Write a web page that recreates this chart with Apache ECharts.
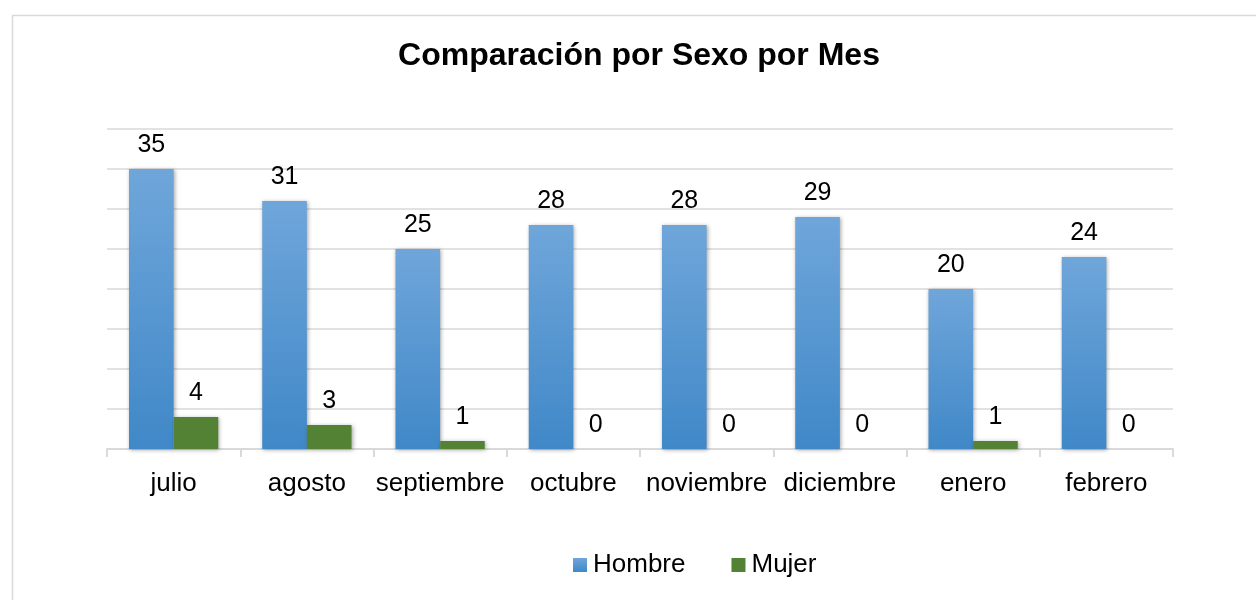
<!DOCTYPE html>
<html lang="es">
<head>
    <meta charset="UTF-8">
    <title>Comparación por Sexo por Mes</title>
    <style>
        html, body { margin: 0; padding: 0; background: #fff; }
        #main { width: 1256px; height: 600px; }
    </style>
</head>
<body>
<div id="main"></div>
<script src="https://cdn.jsdelivr.net/npm/echarts@6/dist/echarts.min.js"></script>
<script>
    const chart = echarts.init(document.getElementById('main'));

    // datos
    const meses = ['julio', 'agosto', 'septiembre', 'octubre', 'noviembre', 'diciembre', 'enero', 'febrero'];
    const hombre = [35, 31, 25, 28, 28, 29, 20, 24];
    const mujer = [4, 3, 1, 0, 0, 0, 1, 0];

    const font = 'Arial, "Liberation Sans", sans-serif';

    // etiqueta encima de cada barra
    const etiqueta = {
        show: true,
        position: 'top',
        distance: 11,
        color: '#000',
        fontSize: 25,
        fontFamily: font
    };

    const sombra = {
        shadowBlur: 4,
        shadowColor: 'rgba(0,0,0,0.35)',
        shadowOffsetX: 1,
        shadowOffsetY: 1
    };

    const option = {
        backgroundColor: '#fff',
        // marco del gráfico
        graphic: [{
            type: 'rect',
            left: 10, top: 13,
            shape: { width: 1260, height: 600 },
            style: { fill: 'none', stroke: '#d9d9d9', lineWidth: 1.5 },
            silent: true
        }],
        title: {
            text: 'Comparación por Sexo por Mes',
            left: 634,
            top: 35,
            textAlign: 'center',
            textStyle: { fontFamily: font, fontSize: 32, fontWeight: 'bold', color: '#000' }
        },
        legend: {
            top: 547,
            left: 568,
            itemWidth: 14,
            itemHeight: 14,
            itemGap: 46,
            icon: 'rect',
            textStyle: { fontFamily: font, fontSize: 26, color: '#000', padding: [0, 0, 0, 1] },
            data: ['Hombre', 'Mujer']
        },
        grid: { left: 107, right: 83, top: 129, bottom: 151, containLabel: false },
        xAxis: {
            type: 'category',
            data: meses,
            axisLine: { show: true, lineStyle: { color: '#d9d9d9', width: 2 } },
            axisTick: { show: true, length: 8, lineStyle: { color: '#d9d9d9', width: 2 } },
            axisLabel: { interval: 0, color: '#000', fontSize: 26, fontFamily: font, margin: 22 }
        },
        yAxis: {
            type: 'value',
            min: 0,
            max: 40,
            interval: 5,
            axisLabel: { show: false },
            axisLine: { show: false },
            axisTick: { show: false },
            splitLine: { lineStyle: { color: '#d9d9d9', width: 1.5 } }
        },
        series: [
            {
                name: 'Hombre',
                type: 'bar',
                data: hombre,
                barGap: '0%',
                barCategoryGap: '33%',
                label: etiqueta,
                itemStyle: Object.assign({
                    color: new echarts.graphic.LinearGradient(0, 0, 0, 1, [
                        { offset: 0, color: '#6fa6da' },
                        { offset: 1, color: '#4088c8' }
                    ])
                }, sombra)
            },
            {
                name: 'Mujer',
                type: 'bar',
                data: mujer,
                label: etiqueta,
                itemStyle: Object.assign({ color: '#548235' }, sombra)
            }
        ]
    };

    chart.setOption(option);
</script>
</body>
</html>
